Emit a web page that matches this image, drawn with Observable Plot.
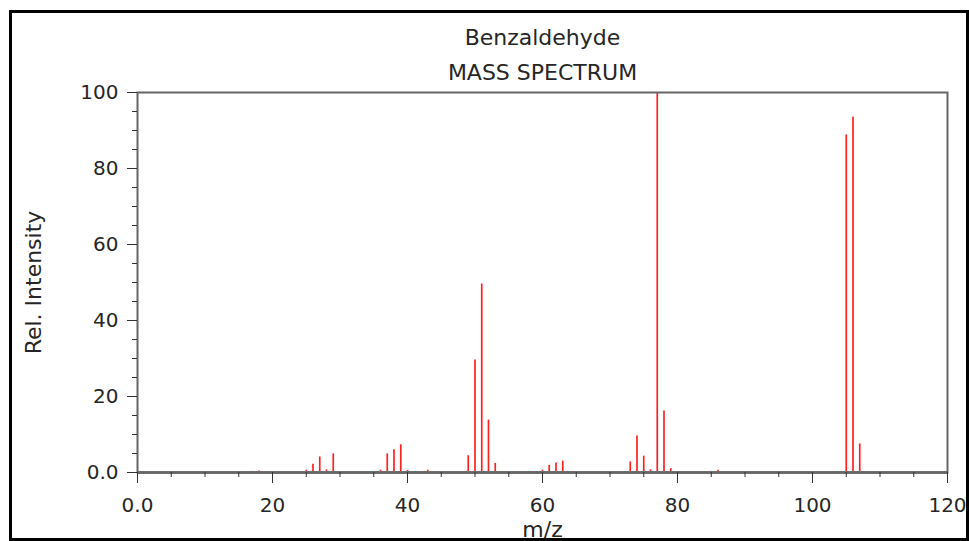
<!DOCTYPE html>
<html><head><meta charset="utf-8">
<script src="https://cdn.jsdelivr.net/npm/d3@7"></script>
<script src="https://cdn.jsdelivr.net/npm/@observablehq/plot@0.6"></script>
<style>
body{margin:0;background:#fff;}
#wrap{position:relative;width:969px;height:541px;overflow:hidden;background:#fff;}
#border{position:absolute;left:9px;top:10px;width:960px;height:531px;border:3px solid #000;box-sizing:border-box;pointer-events:none;}
</style></head><body><div id="wrap"><div id="chart"></div><div id="border"></div></div>
<script>
const mz =        [17, 18, 25, 26, 27, 28, 29, 36, 37, 38, 39, 40, 43, 49, 50, 51, 52, 53, 60, 61, 62, 63, 73, 74, 75, 76, 77, 78, 79, 85, 86, 105, 106, 107];
const intensity = [0.3,0.4,0.6,2.2,4.1,0.7,4.9,0.6,4.9,6.0,7.3,0.5,0.6,4.4,29.6,49.6,13.8,2.4,0.6,1.9,2.5,3.0,2.8,9.6,4.3,0.7,100,16.2,1.0,0.3,0.6,88.8,93.5,7.5];
const xMajorTicks = [0, 20, 40, 60, 80, 100, 120];
const xMinorTicks = [5, 10, 15, 25, 30, 35, 45, 50, 55, 65, 70, 75, 85, 90, 95, 105, 110, 115];
const yMajorTicks = [0, 20, 40, 60, 80, 100];
const yMinorTicks = [5, 10, 15, 25, 30, 35, 45, 50, 55, 65, 70, 75, 85, 90, 95];
const title = "Benzaldehyde";
const subtitle = "MASS SPECTRUM";
const xLabel = "m/z";
const yLabel = "Rel. Intensity";

const fmt = d => d === 0 ? "0.0" : String(d);
const data = mz.map((m, i) => ({mz: m, intensity: intensity[i]}));
const font = "'DejaVu Sans', sans-serif";
const ink = "#262626";

const chart = Plot.plot({
  width: 969, height: 541,
  marginLeft: 137, marginRight: 22, marginTop: 92, marginBottom: 69,
  style: {fontFamily: font, fontSize: "20px", color: ink, background: "#fff", overflow: "visible"},
  x: {domain: [0, 120]},
  y: {domain: [0, 100]},
  marks: [
    Plot.ruleX(data, {x: "mz", y1: 0, y2: "intensity", stroke: "#ff2020", strokeWidth: 1.7}),
    Plot.ruleY([0], {stroke: "#777", strokeWidth: 3}),
    Plot.frame({stroke: "#666", strokeWidth: 2}),
    Plot.axisX({ticks: xMinorTicks, tickSize: 5, tickFormat: () => "", label: null, stroke: "#333"}),
    Plot.axisX({ticks: xMajorTicks, tickSize: 11, tickPadding: 14, tickFormat: fmt, label: null, stroke: "#333", fill: ink}),
    Plot.axisY({ticks: yMinorTicks, tickSize: 5, tickFormat: () => "", label: null, stroke: "#333"}),
    Plot.axisY({ticks: yMajorTicks, tickSize: 10, tickPadding: 9, tickFormat: fmt, label: null, stroke: "#333", fill: ink}),
    Plot.text([title], {text: d => d, frameAnchor: "top", dy: -63, fontSize: 22, fill: ink}),
    Plot.text([subtitle], {text: d => d, frameAnchor: "top", dy: -28, fontSize: 22, fill: ink}),
    Plot.text([yLabel], {text: d => d, frameAnchor: "left", textAnchor: "middle", dx: -104, rotate: -90, fontSize: 22, fill: ink}),
    Plot.text([xLabel], {text: d => d, frameAnchor: "bottom", dy: 64, fontSize: 22, fill: ink})
  ]
});
document.getElementById("chart").appendChild(chart);
</script></body></html>
